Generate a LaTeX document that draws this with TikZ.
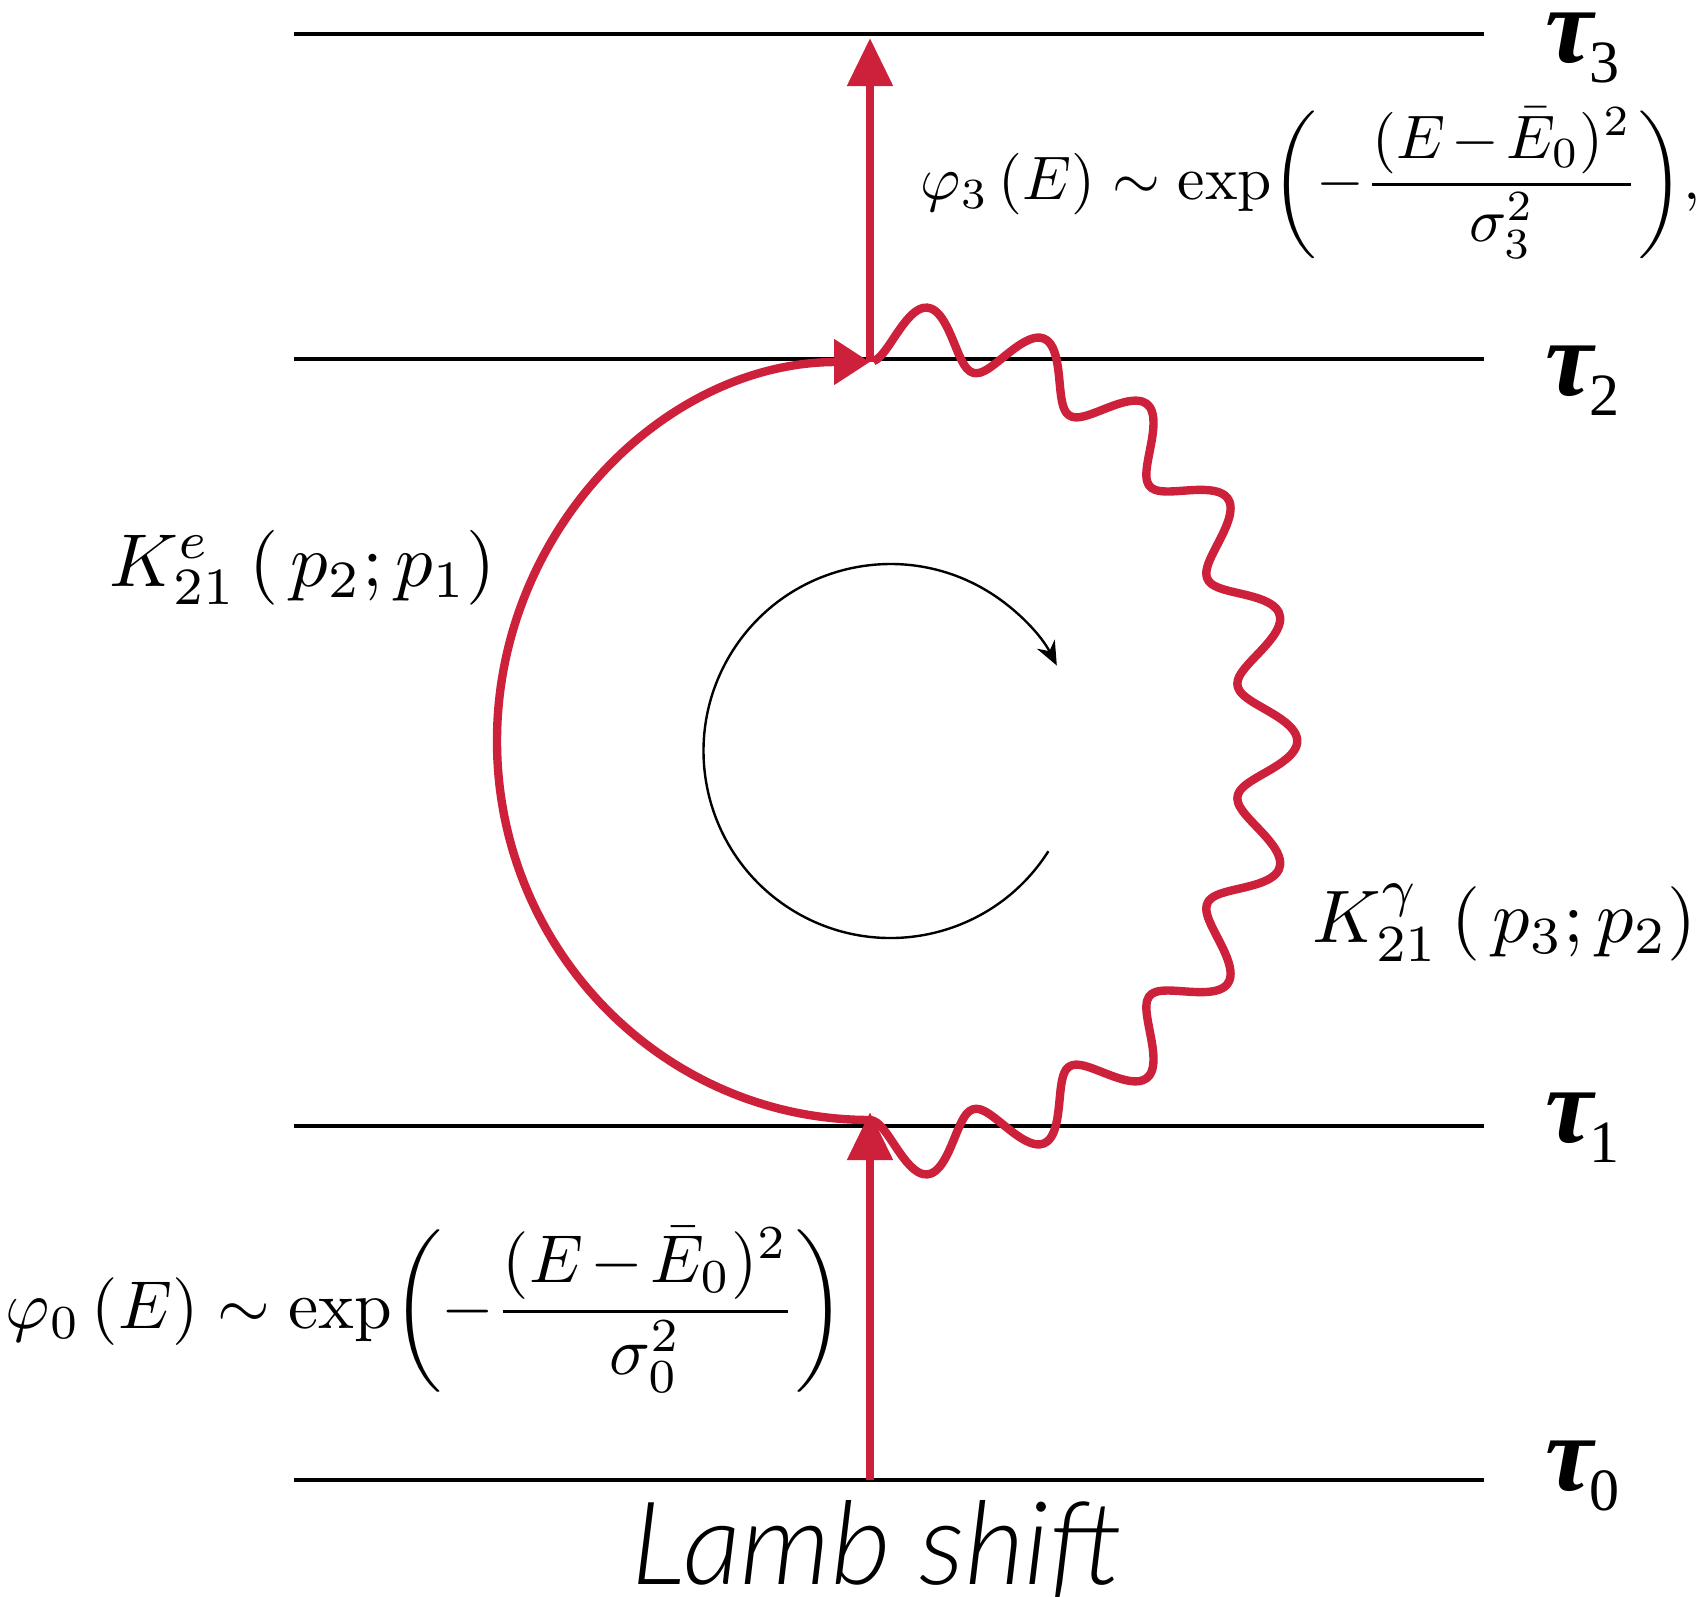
\documentclass[tikz,border=0pt]{standalone}
\usepackage{amsmath,bm}
\usepackage{graphicx}
\usepackage{fontspec}
\newfontfamily\lambfont{Lato Light Italic}
\newfontfamily\taufont{Liberation Serif}
\usetikzlibrary{arrows.meta}
\definecolor{feyn}{RGB}{205,32,58}
\newcommand\taulab[1]{{\fontsize{27}{30}\selectfont\taufont\bfseries\itshape τ}\kern-1pt\raisebox{-5pt}{\fontsize{15}{17}\selectfont\taufont #1}}
\tikzset{
  level/.style={line width=1pt, black},
  fermion/.style={line width=2.1pt, feyn},
  photon/.style={line width=2.1pt, feyn, line join=round},
  loopline/.style={line width=0.6pt, black},
  taunode/.style={anchor=base west, inner sep=0pt},
  formula/.style={inner sep=0pt},
  bigtip/.style={-{Triangle[length=12pt,width=11pt]}},
}
\begin{document}
\begin{tikzpicture}[x=0.25pt,y=-0.25pt]
\useasboundingbox (0,0) rectangle (1707,1597);
% levels
\draw[level] (294,33.7) -- (1484,33.7);
\draw[level] (294,359) -- (1484,359);
\draw[level] (294,1126) -- (1484,1126);
\draw[level] (294,1480) -- (1484,1480);
\node[taunode] (t3) at (1545,62) {\taulab{3}};
\node[taunode] (t2) at (1545,395) {\taulab{2}};
\node[taunode] (t1) at (1545,1142) {\taulab{1}};
\node[taunode] (t0) at (1545,1490) {\taulab{0}};
% vertices
\coordinate (v0) at (870,1480);
\coordinate (v1) at (870,1120);
\coordinate (v2) at (870,362);
\coordinate (v3) at (870,38);
% incoming and outgoing lines
\draw[fermion,bigtip] (v0) -- ([yshift=2pt]v1);
\draw[fermion,bigtip] (v2) -- (v3);
% electron propagator
\draw[fermion,-{Triangle[length=9pt,width=11pt]}] (v1) arc[start angle=90, end angle=270, x radius=373, y radius=379];
% photon
\draw[photon] (v1) -- plot[smooth, domain=0:1, samples=331, variable=\t]
  ({887.3+(382-28*cos(3960*\t))*cos(92.8-185.6*\t)},
   {741+(407.5-28*cos(3960*\t))*sin(92.8-185.6*\t)});
% loop arrow
\coordinate (cs) at (1048.4,851.2);
\draw[loopline,-{Stealth[length=6pt,width=5pt]}] (cs) arc[start angle=32.4, end angle=332.8, radius=187];
% labels
\node[formula, anchor=west] (phi3) at (920,183) {\resizebox{195pt}{!}{$\varphi_{3}\,(E)\sim\exp\biggl(-\dfrac{(E\mkern2mu{-}\mkern2mu\bar{E}_{0})^{2}}{\sigma_{3}^{2}}\biggr),$}};
\node[formula, anchor=west] (phi0) at (5,1310) {\resizebox{210pt}{!}{$\varphi_{0}\,(E)\sim\exp\biggl(-\dfrac{(E\mkern2mu{-}\mkern2mu\bar{E}_{0})^{2}}{\sigma_{0}^{2}}\biggr)$}};
\node[formula, anchor=base west] (ke) at (109,586) {\resizebox{96.5pt}{!}{$K^{e}_{21}\,(\,p_{2};p_{1})$}};
\node[formula, anchor=base west] (kg) at (1312,942) {\resizebox{96pt}{!}{$K^{\gamma}_{21}\,(\,p_{3};p_{2})$}};
\node[formula, anchor=base west] (lamb) at (631,1584) {\resizebox{122.5pt}{!}{\lambfont Lamb shift}};
\end{tikzpicture}
\end{document}
